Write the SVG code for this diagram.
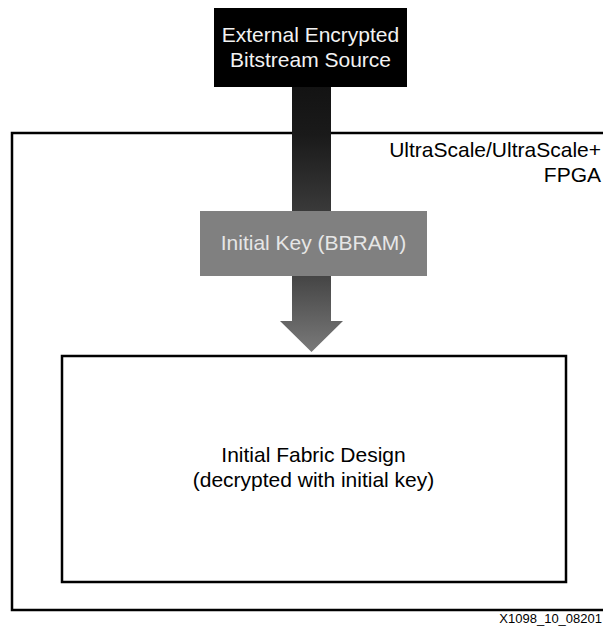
<svg xmlns="http://www.w3.org/2000/svg" width="603" height="633" viewBox="0 0 603 633">
<defs>
<style>
text{font-family:"Liberation Sans",Arial,sans-serif;font-size:21px}
.frame{fill:none;stroke:#000;stroke-width:2.5}
</style>
<linearGradient id="g1" x1="0" y1="0" x2="0" y2="1">
<stop offset="0" stop-color="#111"/>
<stop offset="0.45" stop-color="#1a1a1a"/>
<stop offset="1" stop-color="#3a3a3a"/>
</linearGradient>
<linearGradient id="g2" x1="0" y1="0" x2="0" y2="1">
<stop offset="0" stop-color="#444"/>
<stop offset="1" stop-color="#7a7a7a"/>
</linearGradient>
</defs>
<rect width="603" height="633" fill="#fff"/>
<g id="fpga">
<rect class="frame" x="12" y="133" width="600" height="477"/>
<text x="601" y="157" text-anchor="end" fill="#000">UltraScale/UltraScale+</text>
<text x="601" y="182" text-anchor="end" fill="#000">FPGA</text>
</g>
<g id="connectors">
<rect x="292" y="73" width="39" height="139" fill="url(#g1)"/>
<path d="M292,275 H331 V321 H343 L311.5,352 L280,321 H292 Z" fill="url(#g2)"/>
</g>
<g id="source">
<rect x="214" y="8" width="193" height="79" fill="#000"/>
<text x="310.5" y="42" text-anchor="middle" fill="#f2f2f2">External Encrypted</text>
<text x="310.5" y="67" text-anchor="middle" fill="#f2f2f2">Bitstream Source</text>
</g>
<g id="key">
<rect x="200" y="211" width="227" height="65" fill="#808080"/>
<text x="313.5" y="250" text-anchor="middle" fill="#e6e6e6">Initial Key (BBRAM)</text>
</g>
<g id="fabric">
<rect class="frame" x="62" y="356" width="504" height="226"/>
<text x="313.5" y="462" text-anchor="middle" fill="#000">Initial Fabric Design</text>
<text x="313.5" y="487" text-anchor="middle" fill="#000">(decrypted with initial key)</text>
</g>
<text x="602" y="623" text-anchor="end" fill="#000" style="font-size:13px">X1098_10_08201</text>
</svg>
